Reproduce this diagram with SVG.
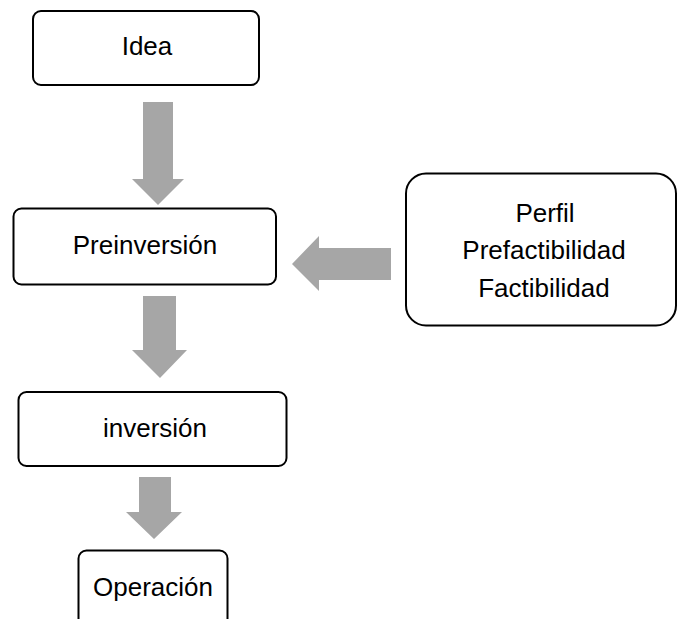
<svg xmlns="http://www.w3.org/2000/svg" width="677" height="619" viewBox="0 0 677 619">
<style>
.box{fill:#fff;stroke:#000;stroke-width:2}
.lbl{font-family:"Liberation Sans",Arial,sans-serif;font-size:26px;fill:#000;text-anchor:middle}
.arr{fill:#a6a6a6}
</style>
<rect width="677" height="619" fill="#fff"/>
<g id="connectors">
<polygon class="arr" points="143,102 173,102 173,179 184,179 158,205 132,179 143,179"/>
<polygon class="arr" points="143,296 176,296 176,350 187,350 160,378 132,350 143,350"/>
<polygon class="arr" points="139,477 171,477 171,512 182,512 154,539 126,512 139,512"/>
<polygon class="arr" points="391,248 391,280 319,280 319,291 292,264 319,236 319,248"/>
</g>
<g id="idea"><rect class="box" x="33" y="11" width="226" height="74" rx="8"/><text class="lbl" x="147" y="55">Idea</text></g>
<g id="preinversion"><rect class="box" x="13.5" y="208.5" width="262.5" height="76" rx="8"/><text class="lbl" x="145" y="254">Preinversión</text></g>
<g id="estudios"><rect class="box" x="406" y="173.5" width="270" height="152" rx="20"/><text class="lbl" x="545" y="222">Perfil</text><text class="lbl" x="544" y="259">Prefactibilidad</text><text class="lbl" x="544" y="297">Factibilidad</text></g>
<g id="inversion"><rect class="box" x="18.5" y="392" width="268" height="74" rx="8"/><text class="lbl" x="155" y="437">inversión</text></g>
<g id="operacion"><rect class="box" x="78.5" y="550.5" width="149" height="100" rx="8"/><text class="lbl" x="153" y="596">Operación</text></g>
</svg>
